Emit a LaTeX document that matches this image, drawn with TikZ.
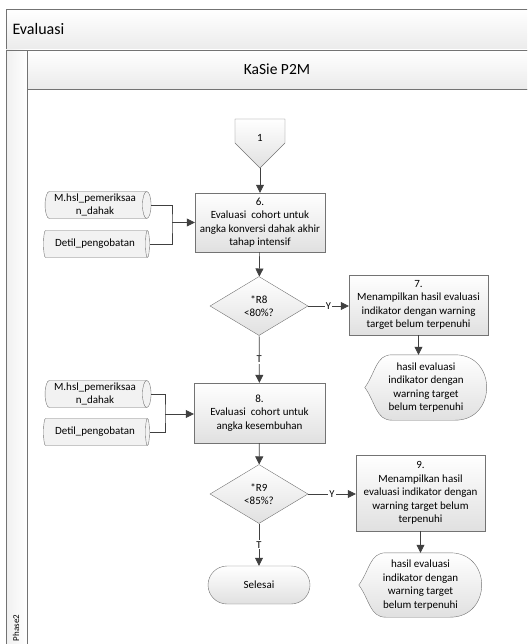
\documentclass[tikz,border=0pt]{standalone}
\usepackage{fontspec}
\setmainfont{Carlito}
\usetikzlibrary{positioning}
\usetikzlibrary{shapes.geometric, arrows.meta, backgrounds}

% outline of an output (display) shape round a named node
\newcommand{\displayshape}[1]{%
  \draw[dispframe] (#1.west) .. controls +(11,-15) and +(-16,0) .. ([xshift=27pt]#1.north west)
    -- ([xshift=-32pt]#1.north east) .. controls +(42,0) and +(42,0) .. ([xshift=-32pt]#1.south east)
    -- ([xshift=27pt]#1.south west) .. controls +(-16,0) and +(11,15) .. (#1.west);}

\begin{document}
\begin{tikzpicture}[x=1pt,y=-1pt]
    \tikzset{>={Triangle[length=8pt,width=8pt]}}
    \tikzset{line/.style={draw=black!75, line width=0.7pt}}
    \tikzset{lane/.style={draw=black!55, line width=0.7pt}}
    \tikzset{txt/.style={align=center, inner sep=1pt, font=\fontsize{11}{13.4}\selectfont}}
    \tikzset{base/.style = {txt, draw=black!55, top color=white, bottom color=black!12}}
    \tikzset{process/.style = {base, rectangle}}
    \tikzset{decision/.style = {base, diamond, minimum width=98pt, minimum height=59pt}}
    \tikzset{terminal/.style = {base, rectangle, rounded corners=19pt,
                               minimum width=102pt, minimum height=38pt}}
    \tikzset{datastore/.style = {txt, draw=black!55, cylinder, aspect=0.35,
                                minimum height=106pt, minimum width=27pt,
                                cylinder uses custom fill, cylinder body fill=black!5,
                                cylinder end fill=black!5}}
    \tikzset{dispframe/.style = {draw=black!55, top color=white, bottom color=black!12}}
    \tikzset{display/.style = {txt, minimum width=122pt, minimum height=65pt}}
    \tikzset{yesno/.style = {fill=white, inner sep=1pt, font=\fontsize{10.5}{12}\selectfont}}

    \useasboundingbox (0,0) rectangle (527,644);
    \clip (0,0) rectangle (527,644);

    % pool and lane
    \draw[lane, top color=white, bottom color=black!8] (6,9) rectangle (540,50);
    \node (pool) [anchor=west, font=\fontsize{16}{19}\selectfont] at (9,29.5) {Evaluasi};
    \draw[lane, top color=white, bottom color=black!8] (27,50) rectangle (540,89);
    \node (lane) [font=\fontsize{15.5}{18}\selectfont] at (277,69.5) {KaSie P2M};
    \draw[lane, left color=black!6, right color=white] (6,50) rectangle (27,660);
    \node (phase) [rotate=90, font=\fontsize{9}{10}\selectfont] at (16,628) {Phase2};
    \draw[lane] (27,89) rectangle (540,660);

    % off-page connector
    \draw[dispframe] (235,119) -- (285,119) -- (285,143) -- (260,168) -- (235,143) -- cycle;
    \node (c1) [txt] at (260,137.5) {1};
    \coordinate (c1tip) at (260,168);

    \node (b6) [process, minimum width=130pt, minimum height=59pt] at (260,222.5)
        {6.\\Evaluasi\ \ cohort untuk\\angka konversi dahak akhir\\tahap intensif};
    \node (m6) [datastore] at (95,205) {M.hsl\_pemeriksaa\\n\_dahak};
    \node (p6) [datastore] at (95,244) {Detil\_pengobatan};
    \coordinate (j6) at (172,222.5);

    \node (d8) [decision] at (259,306) {*R8\\<80\%?};
    \node (b7) [process, minimum width=139pt, minimum height=60pt] at (418.5,305)
        {7.\\Menampilkan hasil evaluasi\\indikator dengan warning\\target belum terpenuhi};
    \node (o7) [display] at (426,387.5)
        {hasil evaluasi\\indikator dengan\\warning target\\belum terpenuhi};

    \node (b8) [process, minimum width=131pt, minimum height=60pt] at (259.5,413)
        {8.\\Evaluasi\ \ cohort untuk\\angka kesembuhan};
    \node (m8) [datastore] at (95,394) {M.hsl\_pemeriksaa\\n\_dahak};
    \node (p8) [datastore] at (95,432) {Detil\_pengobatan};
    \coordinate (j8) at (165,414);

    \node (d9) [decision] at (259,494) {*R9\\<85\%?};
    \node (b9) [process, minimum width=129pt, minimum height=76pt] at (420.5,493)
        {9.\\Menampilkan hasil\\evaluasi indikator dengan\\warning target belum\\terpenuhi};
    \node (o9) [display, minimum width=123pt, minimum height=64pt] at (420.5,585)
        {hasil evaluasi\\indikator dengan\\warning target\\belum terpenuhi};
    \node (end) [terminal] at (259,585) {Selesai};

    \begin{scope}[on background layer]
        \displayshape{o7}
        \displayshape{o9}
    \end{scope}

    \draw[line, ->] (c1tip) -- (b6);
    \draw[line] (m6.east) -| (j6) |- (p6.east);
    \draw[line, ->] (j6) -- (b6.west |- j6);
    \draw[line, ->] (b6) -- (d8);
    \draw[line, ->] (d8.east) -- node[yesno] {Y} (d8.east -| b7.west);
    \draw[line, ->] (b7.south) -- (b7.south |- o7.north);
    \draw[line, ->] (d8) -- node[yesno] {T} (b8);

    \draw[line] (m8.east) -| (j8) |- (p8.east);
    \draw[line, ->] (j8) -- (b8.west |- j8);
    \draw[line, ->] (b8) -- (d9);
    \draw[line, ->] (d9.east) -- node[yesno] {Y} (d9.east -| b9.west);
    \draw[line, ->] (b9.south) -- (b9.south |- o9.north);
    \draw[line, ->] (d9) -- node[yesno] {T} (end);

\end{tikzpicture}
\end{document}
